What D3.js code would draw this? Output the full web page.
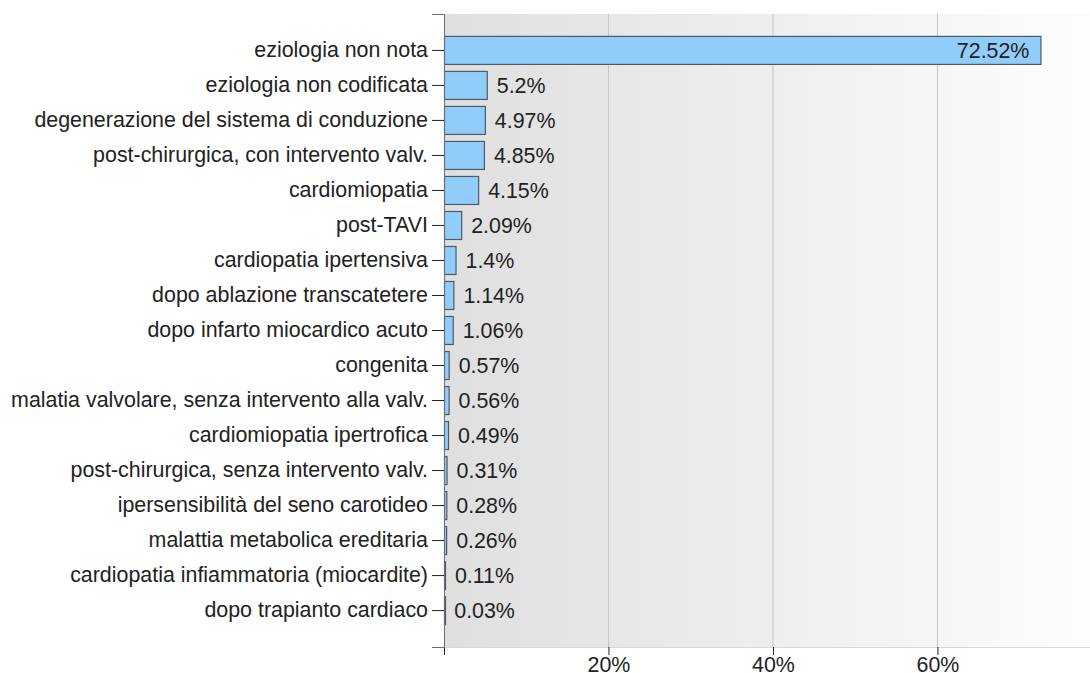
<!DOCTYPE html>
<html>
<head>
<meta charset="utf-8">
<script src="https://cdn.jsdelivr.net/npm/d3@7"></script>
<style>
  body { margin: 0; background: #fff; }
  text { font-family: "Liberation Sans", Arial, sans-serif; fill: #222; }
</style>
</head>
<body>
<div id="chart"></div>
<script>
const categories = [
  "eziologia non nota",
  "eziologia non codificata",
  "degenerazione del sistema di conduzione",
  "post-chirurgica, con intervento valv.",
  "cardiomiopatia",
  "post-TAVI",
  "cardiopatia ipertensiva",
  "dopo ablazione transcatetere",
  "dopo infarto miocardico acuto",
  "congenita",
  "malatia valvolare, senza intervento alla valv.",
  "cardiomiopatia ipertrofica",
  "post-chirurgica, senza intervento valv.",
  "ipersensibilità del seno carotideo",
  "malattia metabolica ereditaria",
  "cardiopatia infiammatoria (miocardite)",
  "dopo trapianto cardiaco"
]
const values = [72.52, 5.2, 4.97, 4.85, 4.15, 2.09, 1.4, 1.14, 1.06, 0.57, 0.56, 0.49, 0.31, 0.28, 0.26, 0.11, 0.03]
const xTicks = [0, 20, 40, 60]

function drawChart(){
    let width = 1090
    let height = 673
    let margin = {top: 14, bottom: 26, left: 444, right: 0}
    let plotW = width - margin.left - margin.right
    let plotH = height - margin.top - margin.bottom
    let fontSize = "21.4px"

    let svg = d3.select("#chart")
        .append("svg")
            .attr("width", width)
            .attr("height", height)

    let grad = svg.append("defs").append("linearGradient")
        .attr("id", "bg")
        .attr("x1", "0%").attr("x2", "100%")
        .attr("y1", "0%").attr("y2", "0%")
    grad.append("stop").attr("offset", "0%").attr("stop-color", "#dfdfdf")
    grad.append("stop").attr("offset", "100%").attr("stop-color", "#fdfdfd")

    let g = svg.append("g")
        .attr("transform", `translate(${margin.left},${margin.top})`)

    let x = d3.scaleLinear()
        .domain([0, 78.55])
        .range([0, plotW])
    let y = d3.scaleBand()
        .domain(categories)
        .range([0, plotH])
        .paddingInner(0.2)
        .paddingOuter(0.64)

    g.append("rect")
        .attr("width", plotW)
        .attr("height", plotH)
        .attr("fill", "url(#bg)")

    // vertical grid
    g.selectAll(".grid")
        .data(xTicks.filter(d => d > 0))
        .enter()
        .append("line")
            .attr("class", "grid")
            .attr("x1", d => x(d)).attr("x2", d => x(d))
            .attr("y1", 0).attr("y2", plotH)
            .attr("stroke", "#c4c4c4")
            .attr("stroke-width", 1)

    let data = categories.map((c, i) => ({cat: c, val: values[i]}))

    g.selectAll(".bar")
        .data(data)
        .enter()
        .append("rect")
            .attr("class", "bar")
            .attr("x", 0.5)
            .attr("y", d => y(d.cat))
            .attr("width", d => Math.max(x(d.val), 1))
            .attr("height", y.bandwidth())
            .attr("fill", "#90cdfb")
            .attr("stroke", "#4f5a63")
            .attr("stroke-width", 1.2)

    g.selectAll(".valLabel")
        .data(data)
        .enter()
        .append("text")
            .attr("class", "valLabel")
            .attr("x", d => d.val > 50 ? x(d.val) - 11 : x(d.val) + 10)
            .attr("y", d => y(d.cat) + y.bandwidth() / 2)
            .attr("dy", "0.35em")
            .attr("text-anchor", d => d.val > 50 ? "end" : "start")
            .style("font-size", fontSize)
            .text(d => d.val + "%")

    // bottom axis
    let xAxis = g.append("g")
        .attr("transform", `translate(0,${plotH})`)
        .call(d3.axisBottom(x)
            .tickValues(xTicks)
            .tickSize(8)
            .tickSizeOuter(0)
            .tickPadding(2)
            .tickFormat(d => d === 0 ? "" : d + "%"))
    xAxis.select(".domain").attr("stroke", "#d8d8d8")
    xAxis.selectAll(".tick line").attr("stroke", "#222")
    xAxis.selectAll("text")
        .style("font-size", fontSize)
        .attr("fill", "#222")

    // left axis
    let yAxis = g.append("g")
        .call(d3.axisLeft(y)
            .tickSize(12)
            .tickSizeOuter(12)
            .tickPadding(4))
    yAxis.select(".domain").attr("stroke", "#6e6e6e")
    yAxis.selectAll(".tick line").attr("stroke", "#222")
    yAxis.selectAll("text")
        .style("font-size", fontSize)
        .attr("fill", "#222")
}
drawChart()
</script>
</body>
</html>
